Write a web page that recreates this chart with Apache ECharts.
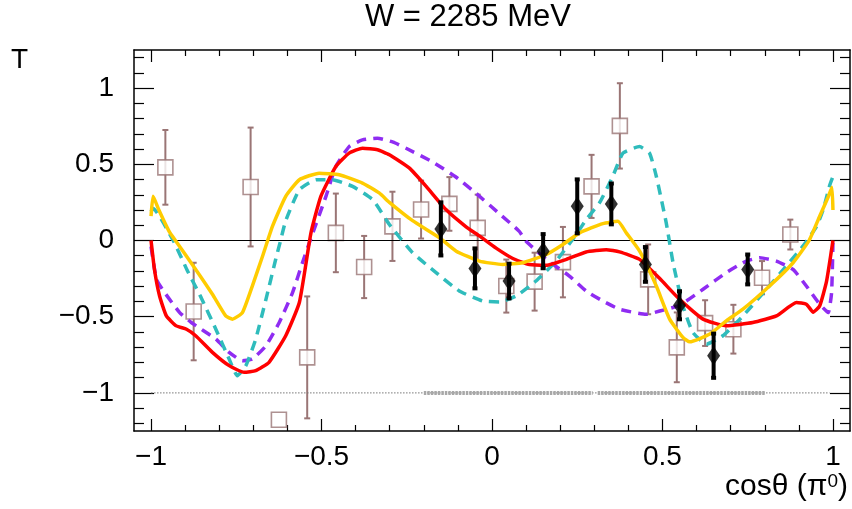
<!DOCTYPE html>
<html>
<head>
<meta charset="utf-8">
<script src="https://cdn.jsdelivr.net/npm/echarts@6/dist/echarts.min.js"></script>
<style>
  html, body { margin: 0; padding: 0; background: #fff; }
  #chart { width: 852px; height: 509px; }
</style>
</head>
<body>
<div id="chart"></div>
<script>
// Measured beam asymmetry T, earlier data set (open squares)
const squareX = [-0.958, -0.875, -0.708, -0.625, -0.542, -0.458, -0.375, -0.292, -0.208, -0.125, -0.042,
                 0.042, 0.125, 0.208, 0.292, 0.375, 0.458, 0.542, 0.625, 0.708, 0.792, 0.875];
const squareY = [0.48, -0.466, 0.351, -1.176, -0.767, 0.05, -0.174, 0.093, 0.203, 0.24, 0.083,
                 -0.299, -0.27, -0.142, 0.355, 0.752, -0.255, -0.701, -0.542, -0.582, -0.244, 0.039];
const squareErr = [0.245, 0.32, 0.39, 0, 0.40, 0.258, 0.204, 0.227, 0.19, 0.176, 0.218,
                   0.174, 0.19, 0.231, 0.207, 0.28, 0.229, 0.229, 0.15, 0.16, 0.109, 0.098];

// New measurement (black diamonds)
const diamondX = [-0.15, -0.05, 0.05, 0.15, 0.25, 0.35, 0.45, 0.55, 0.65, 0.75];
const diamondY = [0.076, -0.183, -0.266, -0.07, 0.224, 0.24, -0.157, -0.425, -0.756, -0.19];
const diamondErr = [0.174, 0.131, 0.114, 0.112, 0.177, 0.134, 0.114, 0.092, 0.145, 0.098];

// Systematic uncertainty band drawn on the T = -1 level
const sysLevel = -1;
const sysRange = [-1, 0.99];
const sysSegments = [[-0.2, 0.295], [0.31, 0.8]];

// Model predictions
const redCurve = [[-1, 0], [-0.99, -0.19], [-0.975, -0.364], [-0.955, -0.495], [-0.926, -0.56], [-0.896, -0.582],
  [-0.869, -0.625], [-0.82, -0.734], [-0.771, -0.821], [-0.727, -0.865], [-0.693, -0.854], [-0.654, -0.799],
  [-0.605, -0.625], [-0.565, -0.407], [-0.531, 0.05], [-0.502, 0.29], [-0.458, 0.486], [-0.419, 0.573],
  [-0.38, 0.606], [-0.336, 0.595], [-0.301, 0.562], [-0.242, 0.475], [-0.193, 0.355], [-0.135, 0.203],
  [-0.076, 0.09], [-0.037, 0.03], [0.012, -0.05], [0.061, -0.118], [0.11, -0.158], [0.159, -0.163],
  [0.218, -0.124], [0.276, -0.075], [0.335, -0.06], [0.374, -0.075], [0.433, -0.124], [0.492, -0.25],
  [0.55, -0.386], [0.619, -0.516], [0.687, -0.56], [0.765, -0.538], [0.834, -0.495], [0.893, -0.407],
  [0.922, -0.418], [0.942, -0.47], [0.961, -0.43], [0.981, -0.27], [0.996, -0.06], [1.0, 0]];

const yellowCurve = [[-1.0, 0.16], [-0.994, 0.29], [-0.977, 0.2], [-0.947, 0.06], [-0.927, -0.005],
  [-0.869, -0.19], [-0.82, -0.353], [-0.781, -0.495], [-0.761, -0.516], [-0.732, -0.473], [-0.703, -0.299],
  [-0.673, -0.103], [-0.644, 0.093], [-0.605, 0.29], [-0.565, 0.399], [-0.507, 0.442], [-0.448, 0.431],
  [-0.38, 0.377], [-0.331, 0.312], [-0.301, 0.25], [-0.233, 0.13], [-0.154, 0.018], [-0.105, -0.07],
  [-0.037, -0.135], [0.031, -0.157], [0.09, -0.146], [0.159, -0.092], [0.208, -0.026], [0.257, 0.05],
  [0.325, 0.111], [0.369, 0.126], [0.394, 0.05], [0.433, -0.07], [0.482, -0.299], [0.521, -0.516],
  [0.56, -0.636], [0.58, -0.665], [0.639, -0.614], [0.687, -0.527], [0.736, -0.451], [0.814, -0.299],
  [0.883, -0.146], [0.93, 0.0], [0.961, 0.159], [0.985, 0.28], [0.997, 0.35], [1.0, 0.2]];

const cyanCurve = [[-1.0, 0.19], [-0.994, 0.21], [-0.935, 0.0], [-0.893, -0.2], [-0.853, -0.375],
  [-0.81, -0.582], [-0.771, -0.778], [-0.747, -0.887], [-0.722, -0.822], [-0.693, -0.647], [-0.663, -0.386],
  [-0.634, -0.12], [-0.62, 0.0], [-0.605, 0.13], [-0.565, 0.333], [-0.516, 0.399], [-0.468, 0.399],
  [-0.409, 0.355], [-0.35, 0.268], [-0.301, 0.105], [-0.233, -0.08], [-0.164, -0.211], [-0.096, -0.331],
  [-0.027, -0.397], [0.022, -0.403], [0.071, -0.364], [0.129, -0.266], [0.188, -0.135], [0.247, 0.039],
  [0.276, 0.137], [0.316, 0.25], [0.354, 0.42], [0.384, 0.573], [0.433, 0.616], [0.462, 0.573],
  [0.482, 0.42], [0.511, 0.116], [0.531, -0.146], [0.56, -0.429], [0.589, -0.603], [0.629, -0.68],
  [0.677, -0.625], [0.736, -0.495], [0.805, -0.32], [0.863, -0.168], [0.912, -0.037], [0.952, 0.093],
  [0.971, 0.2], [0.991, 0.366], [1.0, 0.42]];

const purpleCurve = [[-1.0, -0.04], [-0.984, -0.255], [-0.96, -0.342], [-0.916, -0.473], [-0.882, -0.538],
  [-0.81, -0.647], [-0.771, -0.734], [-0.732, -0.789], [-0.703, -0.778], [-0.663, -0.691], [-0.624, -0.538],
  [-0.585, -0.342], [-0.556, -0.146], [-0.529, 0.028], [-0.487, 0.29], [-0.458, 0.486], [-0.419, 0.616],
  [-0.38, 0.66], [-0.336, 0.671], [-0.29, 0.645], [-0.252, 0.605], [-0.174, 0.515], [-0.105, 0.415],
  [-0.047, 0.31], [0.022, 0.175], [0.08, 0.06], [0.1, -0.005], [0.159, -0.124], [0.227, -0.233],
  [0.276, -0.331], [0.325, -0.397], [0.374, -0.451], [0.452, -0.484], [0.492, -0.463], [0.55, -0.425],
  [0.619, -0.32], [0.687, -0.211], [0.746, -0.135], [0.785, -0.113], [0.834, -0.135], [0.883, -0.19],
  [0.922, -0.299], [0.961, -0.418], [0.986, -0.473], [0.996, -0.342], [1.0, -0.015]];

// Axis ticks
const xMajorTicks = [-1, -0.5, 0, 0.5, 1];
const yMajorTicks = [-1, -0.5, 0, 0.5, 1];
const xMinorTicks = [];
for (let i = -10; i <= 10; i++) if (i % 5 !== 0) xMinorTicks.push(i / 10);
const yMinorTicks = [];
for (let i = -12; i <= 12; i++) if (i % 5 !== 0) yMinorTicks.push(i / 10);

const FONT = 'Liberation Sans, Arial, Helvetica, sans-serif';
const SQUARE_COLOR = '#9a7575';

function fmtTick(v) {
  return v < 0 ? '\u2212' + String(-v) : String(v);
}

function errorBars(color, width, capHalf) {
  return function (params, api) {
    const x = api.value(0), y = api.value(1), e = api.value(2);
    if (!e) return null;
    const hi = api.coord([x, y + e]);
    const lo = api.coord([x, y - e]);
    const style = { stroke: color, lineWidth: width };
    return {
      type: 'group',
      children: [
        { type: 'line', shape: { x1: hi[0], y1: hi[1], x2: lo[0], y2: lo[1] }, style: style },
        { type: 'line', shape: { x1: hi[0] - capHalf, y1: hi[1], x2: hi[0] + capHalf, y2: hi[1] }, style: style },
        { type: 'line', shape: { x1: lo[0] - capHalf, y1: lo[1], x2: lo[0] + capHalf, y2: lo[1] }, style: style }
      ]
    };
  };
}

function xAxisDef(position, ticks, len, withLine, withLabels) {
  return {
    type: 'value', position: position, min: -1.05, max: 1.05,
    axisLine: { show: withLine, onZero: false, lineStyle: { color: '#000', width: 1.5 } },
    axisTick: { show: true, inside: true, length: len, customValues: ticks, lineStyle: { color: '#000', width: 1.2 } },
    axisLabel: withLabels ? {
      show: true, customValues: ticks, formatter: fmtTick, margin: 12,
      fontSize: 28, fontFamily: FONT, color: '#000'
    } : { show: false },
    splitLine: { show: false }
  };
}

function yAxisDef(position, ticks, len, withLine, withLabels) {
  return {
    type: 'value', position: position, min: -1.25, max: 1.25,
    axisLine: { show: withLine, onZero: false, lineStyle: { color: '#000', width: 1.5 } },
    axisTick: { show: true, inside: true, length: len, customValues: ticks, lineStyle: { color: '#000', width: 1.2 } },
    axisLabel: withLabels ? {
      show: true, customValues: ticks, formatter: fmtTick, margin: 20,
      fontSize: 28, fontFamily: FONT, color: '#000'
    } : { show: false },
    splitLine: { show: false }
  };
}

const chart = echarts.init(document.getElementById('chart'), null, { renderer: 'canvas' });

const curveStyle = (color, dashed) => ({
  color: color, width: 3.5, type: dashed ? [10, 7] : 'solid', cap: 'butt', join: 'round'
});

function curveSeries(name, data, color, dashed, z) {
  return {
    type: 'line', name: name, symbol: 'none', smooth: 0.15,
    data: data, lineStyle: curveStyle(color, dashed), z: z
  };
}

chart.setOption({
  animation: false,
  backgroundColor: '#fff',
  title: [
    { text: 'W = 2285 MeV', left: 365, top: 2, padding: 0,
      textStyle: { fontSize: 31, fontWeight: 'normal', fontFamily: FONT, color: '#000' } },
    { text: 'T', left: 11, top: 46, padding: 0,
      textStyle: { fontSize: 28, fontWeight: 'normal', fontFamily: FONT, color: '#000' } },
    { text: 'cos\u03b8 (\u03c0{sup|0})', right: 4, top: 472, padding: 0,
      textStyle: { fontSize: 30, fontWeight: 'normal', fontFamily: FONT, color: '#000',
        rich: { sup: { fontSize: 19, fontFamily: FONT, color: '#000', verticalAlign: 'top', lineHeight: 20 } } } }
  ],
  grid: { left: 134, right: 2, top: 50, bottom: 78, containLabel: false, outerBoundsMode: 'none' },
  xAxis: [
    xAxisDef('bottom', xMajorTicks, 12, true, true),
    xAxisDef('bottom', xMinorTicks, 6, false, false),
    xAxisDef('top', xMajorTicks, 12, true, false),
    xAxisDef('top', xMinorTicks, 6, false, false)
  ],
  yAxis: [
    yAxisDef('left', yMajorTicks, 20, true, true),
    yAxisDef('left', yMinorTicks, 10, false, false),
    yAxisDef('right', yMajorTicks, 20, true, false),
    yAxisDef('right', yMinorTicks, 10, false, false)
  ],
  series: [
    {
      type: 'line', name: 'sys-base', silent: true, symbol: 'none',
      data: sysRange.map(x => [x, sysLevel]),
      lineStyle: { color: '#777', width: 1, type: [1.5, 1.5] },
      markLine: {
        silent: true, symbol: 'none', label: { show: false },
        lineStyle: { color: '#000', width: 1.2, type: 'solid' },
        data: [{ yAxis: 0 }]
      }
    },
    ...sysSegments.map(seg => ({
      type: 'line', silent: true, symbol: 'none',
      data: seg.map(x => [x, sysLevel]),
      lineStyle: { color: '#a8a8a8', width: 4, type: [2.5, 1] }
    })),
    {
      type: 'custom', name: 'sq-err', silent: true,
      renderItem: errorBars(SQUARE_COLOR, 2, 3),
      data: squareX.map((x, i) => [x, squareY[i], squareErr[i]]),
      encode: { x: 0, y: 1 }, z: 3
    },
    {
      type: 'scatter', name: 'squares', silent: true,
      symbol: 'rect', symbolSize: 15,
      itemStyle: { color: '#fff', borderColor: SQUARE_COLOR, borderWidth: 1.6 },
      data: squareX.map((x, i) => [x, squareY[i]]), z: 4
    },
    curveSeries('purple', purpleCurve, '#8f2cf2', true, 5),
    curveSeries('cyan', cyanCurve, '#2fbcbc', true, 5),
    curveSeries('red', redCurve, '#ff0000', false, 6),
    curveSeries('yellow', yellowCurve, '#ffcc00', false, 6),
    {
      type: 'custom', name: 'dm-err', silent: true,
      renderItem: errorBars('#000', 4, 2.5),
      data: diamondX.map((x, i) => [x, diamondY[i], diamondErr[i]]),
      encode: { x: 0, y: 1 }, z: 7
    },
    {
      type: 'scatter', name: 'diamonds', silent: true,
      symbol: 'diamond', symbolSize: [13, 19],
      itemStyle: { color: '#000' },
      data: diamondX.map((x, i) => [x, diamondY[i]]), z: 8
    }
  ]
});
</script>
</body>
</html>
